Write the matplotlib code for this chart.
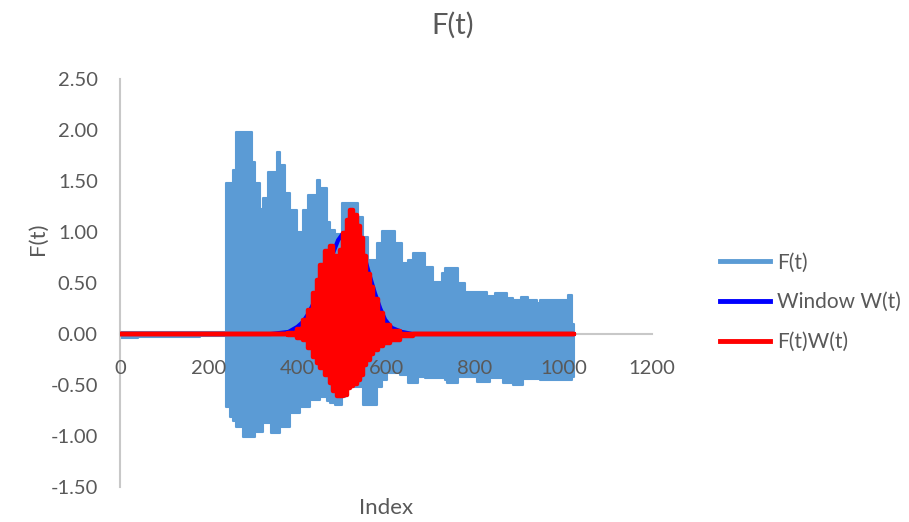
import matplotlib.pyplot as plt
from matplotlib.lines import Line2D

plt.rcParams['font.family'] = ['Lato', 'DejaVu Sans']

# F(t): dense oscillation, stored as envelope (start index, upper, lower)
f_idx = [0, 40, 120, 180, 240, 248, 256, 262, 277, 298, 305, 316, 323, 334, 340, 354,
         361, 372, 383, 399, 406, 413, 425, 429, 444, 451, 466, 474, 485, 500, 508,
         537, 548, 559, 580, 591, 602, 620, 632, 636, 650, 661, 672, 688, 706, 726,
         733, 737, 762, 778, 805, 827, 835, 846, 864, 873, 887, 905, 910, 920, 940,
         947, 1011, 1019, 1023]
f_upper = [0.02, 0.02, 0.02, 0.02, 1.48, 1.48, 1.61, 1.98, 1.98, 1.69, 1.48, 1.23, 1.33,
           1.59, 1.59, 1.78, 1.66, 1.38, 1.22, 1.00, 1.00, 1.22, 1.36, 1.36, 1.51, 1.43,
           1.10, 1.02, 0.98, 1.28, 1.28, 1.15, 0.95, 0.73, 0.89, 1.01, 1.01, 0.89, 0.89,
           0.70, 0.73, 0.79, 0.79, 0.66, 0.51, 0.60, 0.65, 0.65, 0.50, 0.41, 0.41, 0.37,
           0.37, 0.40, 0.40, 0.35, 0.33, 0.36, 0.36, 0.33, 0.30, 0.33, 0.38, 0.10, 0.10]
f_lower = [-0.04, -0.03, -0.03, -0.02, -0.72, -0.81, -0.85, -0.91, -1.01, -1.01, -0.96,
           -0.96, -0.87, -0.87, -0.97, -0.97, -0.91, -0.91, -0.77, -0.77, -0.72, -0.72,
           -0.72, -0.65, -0.65, -0.62, -0.66, -0.68, -0.70, -0.62, -0.52, -0.52, -0.70,
           -0.70, -0.52, -0.45, -0.38, -0.38, -0.40, -0.40, -0.48, -0.48, -0.42, -0.43,
           -0.43, -0.43, -0.45, -0.48, -0.42, -0.42, -0.47, -0.47, -0.43, -0.43, -0.48,
           -0.48, -0.50, -0.50, -0.44, -0.44, -0.44, -0.45, -0.45, -0.42, -0.42]

# Window W(t)
w_idx = [0, 340, 380, 400, 413, 425, 440, 455, 470, 481, 492, 502, 512, 522, 532, 543,
         553, 564, 575, 587, 598, 613, 636, 660, 1023]
w_val = [0.0, 0.0, 0.02, 0.07, 0.12, 0.20, 0.33, 0.50, 0.67, 0.80, 0.92, 0.98, 1.00,
         0.98, 0.93, 0.84, 0.73, 0.56, 0.40, 0.25, 0.14, 0.06, 0.02, 0.0, 0.0]

# F(t)W(t) envelope
fw_idx = [0, 360, 380, 399, 413, 425, 436, 444, 451, 462, 474, 481, 489, 496, 504, 511,
          519, 526, 534, 541, 549, 556, 564, 571, 582, 594, 609, 632, 660, 1023]
fw_upper = [0.0, 0.0, 0.01, 0.05, 0.14, 0.24, 0.40, 0.53, 0.68, 0.81, 0.86, 0.76, 0.69,
            0.82, 0.99, 1.12, 1.22, 1.17, 1.06, 0.94, 0.76, 0.59, 0.46, 0.34, 0.21,
            0.09, 0.03, 0.0, 0.0, 0.0]
fw_lower = [0.0, 0.0, -0.01, -0.04, -0.06, -0.14, -0.23, -0.28, -0.33, -0.40, -0.48,
            -0.56, -0.61, -0.61, -0.60, -0.53, -0.51, -0.49, -0.45, -0.40, -0.30, -0.25,
            -0.20, -0.16, -0.12, -0.09, -0.06, -0.02, 0.0, 0.0]

y_ticks = [-1.5, -1.0, -0.5, 0.0, 0.5, 1.0, 1.5, 2.0, 2.5]
x_ticks = [0, 200, 400, 600, 800, 1000, 1200]

c_f = '#5b9bd5'
c_w = '#0000ff'
c_fw = '#ff0000'
c_txt = '#595959'
c_axis = '#c8c8c8'

fig = plt.figure(figsize=(9.09, 5.22), dpi=100)
ax = fig.add_axes([0.132, 0.067, 0.5853, 0.7817])

ax.fill_between(f_idx, f_lower, f_upper, step='post', facecolor=c_f,
                edgecolor=c_f, linewidth=1.5, zorder=2)
ax.plot(w_idx, w_val, color=c_w, linewidth=3, zorder=3)
ax.fill_between(fw_idx, fw_lower, fw_upper, step='post', facecolor=c_fw,
                edgecolor=c_fw, linewidth=3.2, zorder=4)

ax.set_xlim(0, 1200)
ax.set_ylim(-1.5, 2.5)
ax.set_xticks(x_ticks)
ax.set_yticks(y_ticks)
ax.set_yticklabels([f'{v:.2f}' for v in y_ticks])
ax.tick_params(length=0, labelsize=14.5, labelcolor=c_txt)
ax.tick_params(axis='y', pad=16)
ax.tick_params(axis='x', pad=19)
# tick labels sit on top of the data, as in the original
ax.xaxis.set_zorder(5)

for s in ['top', 'right']:
    ax.spines[s].set_visible(False)
ax.spines['bottom'].set_position(('data', 0))
ax.spines['bottom'].set_color(c_axis)
ax.spines['left'].set_color(c_axis)
ax.spines['bottom'].set_linewidth(1.5)
ax.spines['left'].set_linewidth(1.5)
ax.spines['bottom'].set_zorder(1)

fig.text(0.498, 0.952, 'F(t)', ha='center', va='center', fontsize=21, color=c_txt)
fig.text(0.042, 0.542, 'F(t)', rotation=90, ha='center', va='center',
         fontsize=16, color=c_txt)
fig.text(0.425, 0.027, 'Index', ha='center', va='center', fontsize=16, color=c_txt)

handles = [Line2D([], [], color=c_f, linewidth=3.5),
           Line2D([], [], color=c_w, linewidth=3.5),
           Line2D([], [], color=c_fw, linewidth=3.5)]
leg = fig.legend(handles, ['F(t)', 'Window W(t)', 'F(t)W(t)'], loc='center left',
                 bbox_to_anchor=(0.772, 0.421), frameon=False, fontsize=15,
                 handlelength=2.4, handletextpad=0.3, labelspacing=0.95)
for t in leg.get_texts():
    t.set_color(c_txt)

fig.savefig('out.png', dpi=100)
